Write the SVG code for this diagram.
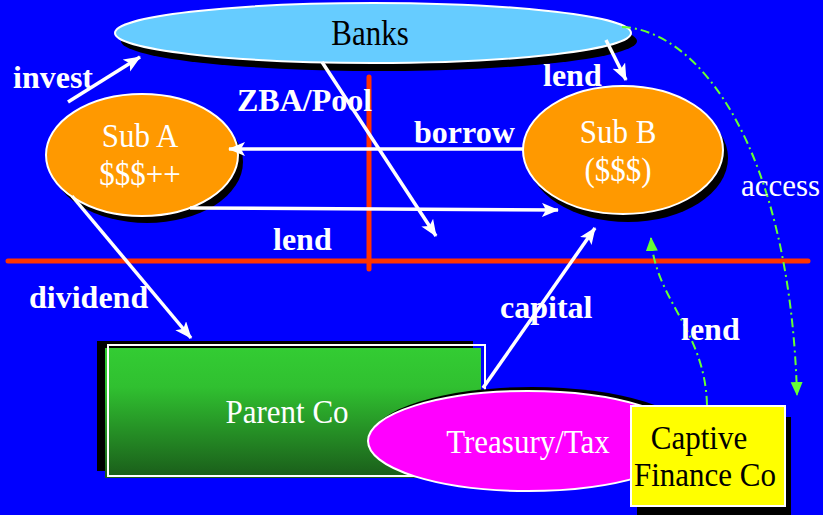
<svg xmlns="http://www.w3.org/2000/svg" width="823" height="515" viewBox="0 0 823 515">
  <defs>
    <linearGradient id="parentFill" x1="0" y1="0" x2="0" y2="1">
      <stop offset="0" stop-color="#33cc33"/>
      <stop offset="0.3" stop-color="#30c030"/>
      <stop offset="1" stop-color="#1a5c1a"/>
    </linearGradient>
    <marker id="wArrow" markerUnits="userSpaceOnUse" markerWidth="20" markerHeight="16" refX="16" refY="7" orient="auto">
      <path d="M0,0 L17,7 L0,14 L4,7 Z" fill="#fff"/>
    </marker>
    <marker id="gArrow" markerUnits="userSpaceOnUse" markerWidth="16" markerHeight="14" refX="13" refY="6" orient="auto">
      <path d="M0,0 L14,6 L0,12 Z" fill="#66ff33"/>
    </marker>
  </defs>
  <style>
    .node-text { font-family: "Liberation Serif", "Times New Roman", serif; font-size: 31px; text-anchor: middle; }
    .label { font-family: "Liberation Serif", "Times New Roman", serif; font-size: 32px; font-weight: bold; fill: #fff; }
    .shadow { fill: #000; }
    .flow { stroke: #fff; stroke-width: 3.5; fill: none; marker-end: url(#wArrow); }
    .green { stroke: #66ff33; stroke-width: 2; fill: none; stroke-dasharray: 9 4 2 4; marker-end: url(#gArrow); }
    .divider { stroke: #ff3300; stroke-width: 5; stroke-linecap: round; }
  </style>

  <rect width="823" height="515" fill="#0000ff"/>

  <!-- dividing lines -->
  <g id="dividers">
    <line class="divider" x1="8" y1="261" x2="808" y2="261"/>
    <line class="divider" x1="369" y1="77" x2="369" y2="269"/>
  </g>

  <g id="banks">
    <ellipse class="shadow" cx="379" cy="41" rx="258" ry="30"/>
    <ellipse cx="373" cy="33" rx="258" ry="30" fill="#66ccff" stroke="#fff" stroke-width="2"/>
    <text class="node-text" transform="translate(370,45) scale(1,1.15)" fill="#000">Banks</text>
  </g>

  <g id="sub-a">
    <ellipse class="shadow" cx="147" cy="162" rx="96" ry="61"/>
    <ellipse cx="142" cy="155" rx="96" ry="61" fill="#ff9900" stroke="#fff" stroke-width="2"/>
    <text class="node-text" transform="translate(140,147) scale(1,1.12)" fill="#fff">Sub A</text>
    <text class="node-text" transform="translate(140,185) scale(1,1.12)" fill="#fff">$$$++</text>
  </g>

  <g id="sub-b">
    <ellipse class="shadow" cx="628" cy="158" rx="100" ry="64"/>
    <ellipse cx="623" cy="150" rx="100" ry="64" fill="#ff9900" stroke="#fff" stroke-width="2"/>
    <text class="node-text" transform="translate(618,143) scale(1,1.08)" fill="#fff">Sub B</text>
    <text class="node-text" transform="translate(618,181) scale(1,1.08)" fill="#fff">($$$)</text>
  </g>

  <g id="parent-co">
    <rect class="shadow" x="97" y="341" width="376" height="130"/>
    <rect x="105" y="348" width="376" height="130" fill="url(#parentFill)"/>
    <rect x="108" y="345" width="377" height="131" fill="none" stroke="#fff" stroke-width="2"/>
    <text class="node-text" transform="translate(287,423) scale(1,1.1)" fill="#fff">Parent Co</text>
  </g>

  <g id="treasury-tax">
    <ellipse class="shadow" cx="532" cy="437" rx="160" ry="50"/>
    <ellipse cx="528" cy="441" rx="160" ry="50" fill="#ff00ff" stroke="#fff" stroke-width="2"/>
    <text class="node-text" transform="translate(528,453) scale(1,1.12)" fill="#fff" font-size="32">Treasury/Tax</text>
  </g>

  <g id="captive-finance-co">
    <rect class="shadow" x="637" y="417" width="154" height="100"/>
    <rect x="631" y="406" width="154" height="100" fill="#ffff00" stroke="#fff" stroke-width="2"/>
    <text class="node-text" transform="translate(699,449) scale(1,1.1)" fill="#000" font-size="30">Captive</text>
    <text class="node-text" transform="translate(705,486) scale(1,1.1)" fill="#000">Finance Co</text>
  </g>

  <!-- flows between entities -->
  <g id="connectors">
    <line class="flow" x1="68" y1="102" x2="140" y2="57"/>
    <line class="flow" x1="322" y1="62" x2="436" y2="236"/>
    <line class="flow" x1="523" y1="149" x2="229" y2="149"/>
    <line class="flow" x1="190" y1="208" x2="558" y2="210"/>
    <line class="flow" x1="606" y1="40" x2="626" y2="80"/>
    <line class="flow" x1="72" y1="196" x2="191" y2="338"/>
    <line class="flow" x1="483" y1="388" x2="595" y2="228"/>
    <path class="green" d="M622,27 C700,30 790,150 797,395"/>
    <path class="green" d="M707,405 C705,330 655,300 651,238"/>
  </g>

  <g id="labels">
    <text class="label" x="13" y="88">invest</text>
    <text class="label" x="237" y="111" font-size="34">ZBA/Pool</text>
    <text class="label" x="543" y="86">lend</text>
    <text class="label" x="414" y="143" font-size="30">borrow</text>
    <text class="label" x="273" y="250">lend</text>
    <text class="label" x="29" y="308">dividend</text>
    <text class="label" x="500" y="318">capital</text>
    <text class="label" x="681" y="340">lend</text>
    <text x="741" y="196" font-family="Liberation Serif, serif" font-size="31" fill="#fff">access</text>
  </g>
</svg>
